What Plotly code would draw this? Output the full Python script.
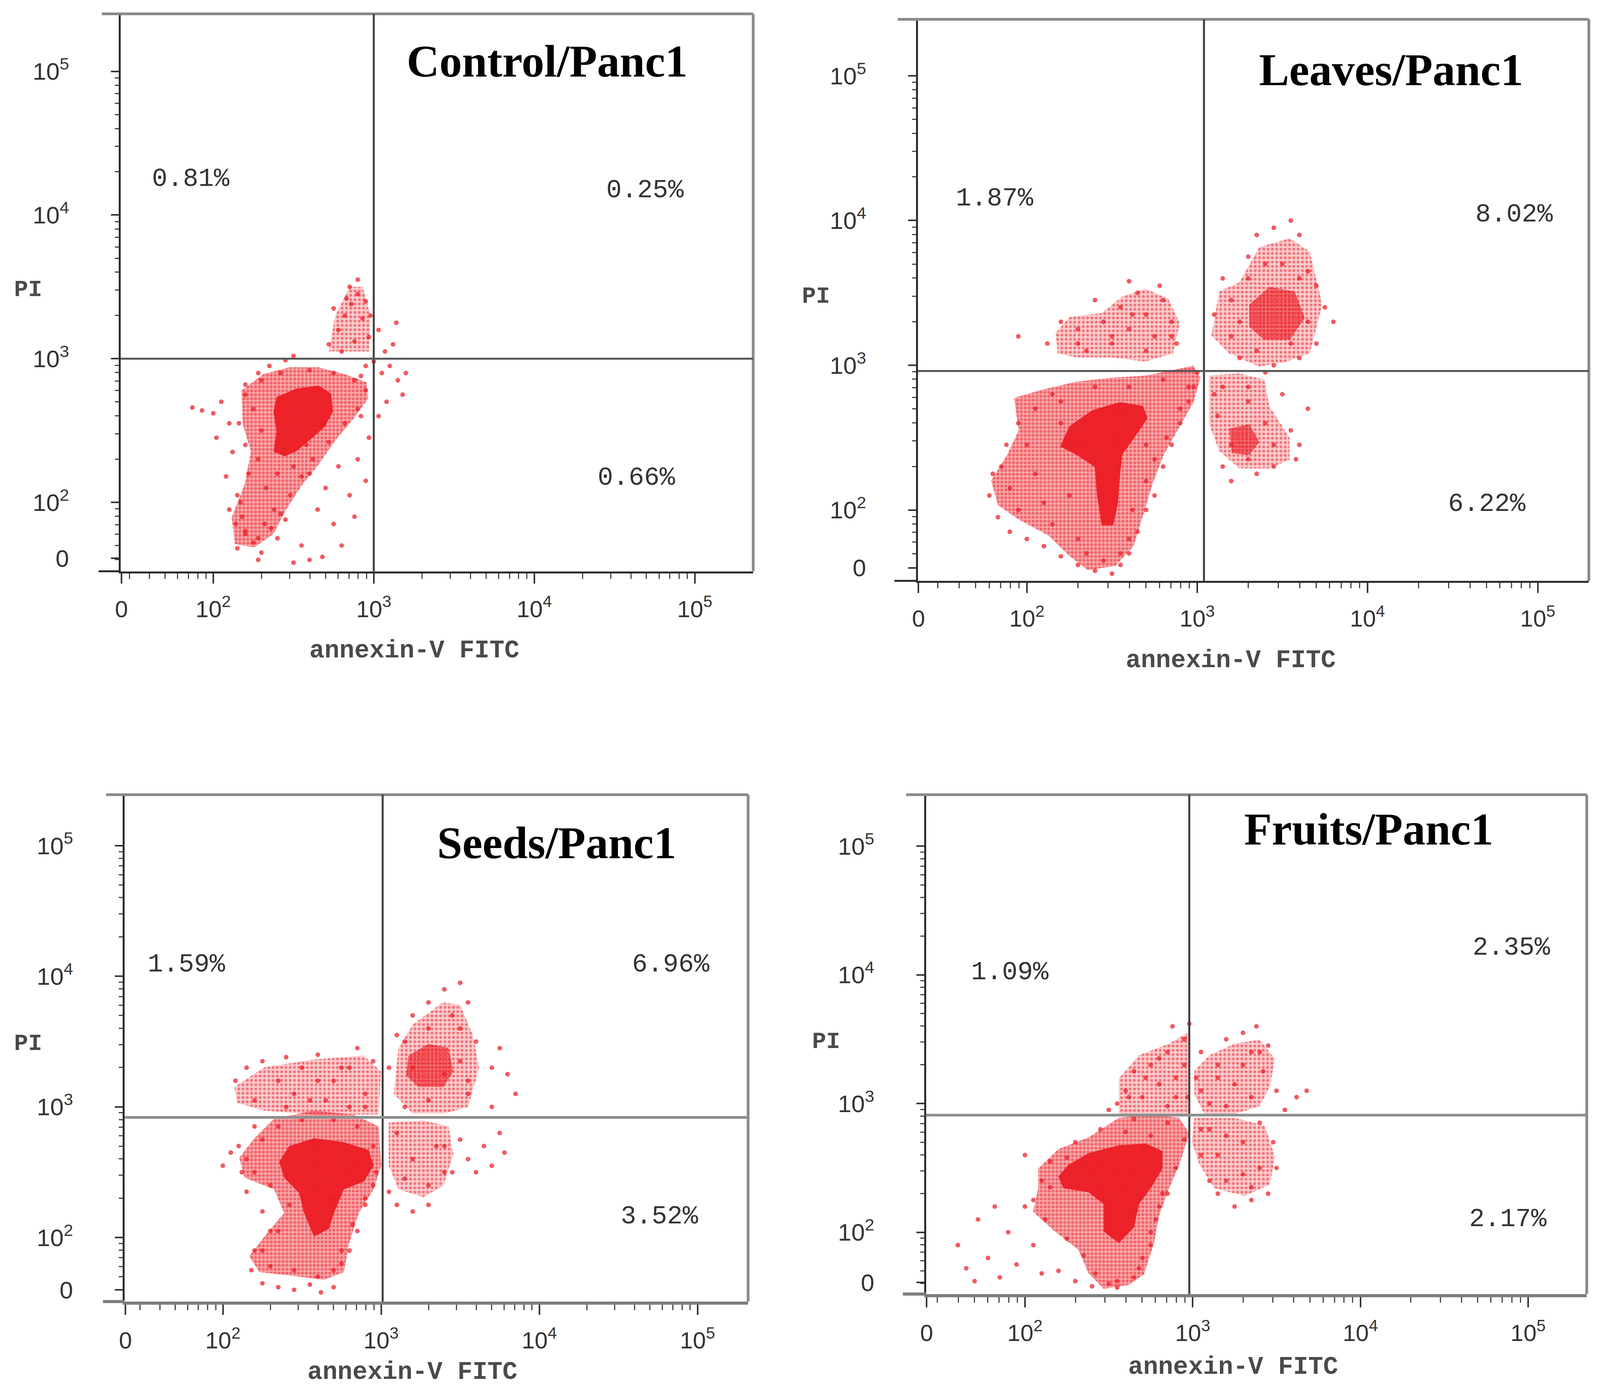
import math
import plotly.graph_objects as go

# ---------------- data (decade units: v means 10**v on the cytometer scale) ----------------
TITLES = ["Control/Panc1", "Leaves/Panc1", "Seeds/Panc1", "Fruits/Panc1"]
PCT_UL = [0.81, 1.87, 1.59, 1.09]
PCT_UR = [0.25, 8.02, 6.96, 2.35]
PCT_LR = [0.66, 6.22, 3.52, 2.17]
GATE_X = [3.00, 3.04, 3.01, 2.98]
GATE_Y = [3.00, 2.96, 2.92, 2.91]
TICK_TEXT = ["0", "10<sup>2</sup>", "10<sup>3</sup>", "10<sup>4</sup>", "10<sup>5</sup>"]
X_LABEL = "annexin-V FITC"
Y_LABEL = "PI"

# --- Control ---
ctrl_cores = [
    [(2.395, 2.733), (2.515, 2.791), (2.655, 2.814), (2.735, 2.756), (2.745, 2.630), (2.695, 2.526),
     (2.615, 2.446), (2.515, 2.354), (2.445, 2.320), (2.375, 2.354), (2.395, 2.492), (2.375, 2.630)],
]
ctrl_halos = [
    [(2.175, 2.779), (2.315, 2.894), (2.475, 2.940), (2.655, 2.940), (2.815, 2.894), (2.955, 2.837),
     (2.965, 2.722), (2.875, 2.584), (2.755, 2.423), (2.655, 2.262), (2.555, 2.124), (2.455, 1.952),
     (2.375, 1.779), (2.255, 1.687), (2.135, 1.710), (2.115, 1.894), (2.195, 2.124), (2.235, 2.354),
     (2.185, 2.538)],
]
ctrl_light = [
    [(2.72, 3.05), (2.76, 3.30), (2.85, 3.50), (2.93, 3.50), (2.98, 3.30), (2.97, 3.05)],
]
ctrl_dots_x = [1.87, 1.93, 2.00, 2.05, 2.10, 2.02, 2.12, 2.08, 2.15, 2.10,
               2.20, 2.28, 2.35, 2.45, 2.50,
               2.20, 2.25, 2.30, 2.18, 2.32, 2.40, 2.28, 2.38, 2.45, 2.15,
               2.60, 2.70, 2.78, 2.85, 2.90, 2.95, 2.65, 2.75, 2.88, 2.55, 2.60, 2.68, 2.50, 2.80, 2.97, 2.92,
               2.72, 2.78, 2.82, 2.86, 2.90, 2.85, 2.93, 2.97, 2.80, 2.88, 2.95, 2.75, 2.90, 2.83, 2.98,
               3.03, 3.07, 3.10, 3.15, 3.05, 3.12, 3.18, 3.08, 3.03, 3.14, 3.20,
               2.95, 3.00, 2.92,
               2.20, 2.30, 2.42, 2.60, 2.75, 2.88, 2.95, 2.90, 2.82, 2.72, 2.62, 2.55, 2.48, 2.42, 2.36,
               2.28, 2.20, 2.14, 2.17, 2.22, 2.20, 2.16, 2.25, 2.30, 2.28, 2.33, 2.40, 2.50, 2.58, 2.68]
ctrl_dots_y = [2.66, 2.64, 2.62, 2.70, 2.55, 2.45, 2.35, 2.18, 2.05, 1.95,
               2.82, 2.90, 2.95, 2.99, 3.02,
               1.80, 1.72, 1.65, 1.90, 1.85, 1.75, 1.60, 1.95, 1.88, 1.68,
               2.20, 2.10, 2.25, 2.05, 2.30, 2.15, 1.95, 1.85, 1.90, 1.70, 1.60, 1.62, 1.58, 1.70, 2.45, 2.60,
               3.10, 3.20, 3.30, 3.38, 3.45, 3.50, 3.28, 3.15, 3.05, 3.12, 3.40, 3.35, 3.55, 3.42, 3.30,
               3.20, 3.05, 2.95, 2.85, 2.90, 3.10, 2.75, 2.70, 2.60, 3.25, 2.90,
               2.95, 2.98, 2.88,
               2.75, 2.85, 2.90, 2.92, 2.90, 2.85, 2.78, 2.65, 2.55, 2.42, 2.30, 2.18, 2.05, 1.92, 1.82,
               1.75, 1.78, 1.85, 2.00, 2.20, 2.40, 2.55, 2.65, 2.50, 2.30, 2.10, 2.20, 2.25, 2.40, 2.55]

# --- Leaves ---
leaves_cores = [
    [(2.249, 2.578), (2.385, 2.690), (2.547, 2.746), (2.682, 2.718), (2.709, 2.634), (2.628, 2.494),
     (2.560, 2.382), (2.547, 2.243), (2.533, 2.033), (2.506, 1.893), (2.439, 1.893), (2.412, 2.103),
     (2.398, 2.298), (2.290, 2.382), (2.195, 2.438)],
]
leaves_halos = [
    [(1.925, 2.774), (2.087, 2.830), (2.290, 2.886), (2.493, 2.914), (2.695, 2.928), (2.871, 2.970),
     (2.979, 2.998), (3.020, 2.914), (2.979, 2.746), (2.898, 2.578), (2.804, 2.382), (2.736, 2.173),
     (2.682, 1.963), (2.628, 1.753), (2.520, 1.613), (2.358, 1.585), (2.249, 1.683), (2.128, 1.823),
     (1.952, 1.935), (1.831, 2.033), (1.790, 2.201), (1.885, 2.382), (1.952, 2.550)],
]
leaves_light = [
    [(2.168, 3.222), (2.249, 3.333), (2.439, 3.361), (2.560, 3.473), (2.695, 3.529), (2.831, 3.459),
     (2.898, 3.291), (2.858, 3.082), (2.695, 3.026), (2.493, 3.054), (2.290, 3.054), (2.182, 3.082)],
    [(3.129, 3.510), (3.247, 3.572), (3.365, 3.816), (3.543, 3.877), (3.661, 3.786), (3.735, 3.419),
     (3.661, 3.082), (3.513, 3.021), (3.365, 2.991), (3.188, 3.082), (3.084, 3.205)],
    [(3.070, 2.929), (3.247, 2.945), (3.395, 2.899), (3.425, 2.715), (3.543, 2.501), (3.543, 2.348),
     (3.425, 2.287), (3.247, 2.287), (3.129, 2.410), (3.070, 2.593)],
]
leaves_mid = [
    [(3.306, 3.419), (3.425, 3.541), (3.573, 3.510), (3.632, 3.327), (3.543, 3.174), (3.395, 3.174),
     (3.306, 3.266)],
    [(3.188, 2.562), (3.306, 2.593), (3.365, 2.471), (3.306, 2.379), (3.203, 2.394)],
]
leaves_dots_x = [1.78, 1.80, 1.83, 1.88, 1.90, 1.95, 2.00, 2.05, 2.10, 2.15, 2.20, 2.30, 2.40, 2.50,
                 2.55, 2.60, 2.65, 2.70, 2.75, 2.80, 2.85, 2.90, 2.95, 2.98, 3.00,
                 2.12, 2.20, 2.30, 2.35, 2.45, 2.50, 2.55, 2.60, 2.65, 2.70, 2.75, 2.80, 2.85, 2.78,
                 2.88, 2.40, 2.60, 1.95,
                 3.10, 3.15, 3.20, 3.30, 3.35, 3.45, 3.50, 3.60, 3.65, 3.70, 3.75, 3.80, 3.70, 3.60,
                 3.45, 3.25, 3.55,
                 3.10, 3.15, 3.20, 3.35, 3.45, 3.55, 3.60, 3.65, 3.50, 3.40, 3.30, 3.58, 3.12,
                 1.85, 1.90, 1.95, 2.00, 2.05, 2.10, 2.15, 2.20, 2.25, 2.30, 2.35, 2.45, 2.55, 2.60, 2.62,
                 2.70, 2.75, 2.82, 2.90, 2.95, 2.60, 2.40, 2.20, 2.80, 2.70,
                 2.30, 2.50, 2.70, 2.85, 2.62,
                 3.20, 3.30, 3.40, 3.60, 3.65, 3.55, 3.35, 3.25,
                 3.15, 3.30, 3.40, 3.45, 3.20, 3.30]
leaves_dots_y = [2.10, 2.25, 1.95, 2.45, 1.85, 2.60, 1.80, 2.70, 1.75, 2.80, 1.68, 1.62, 1.58, 1.56,
                 1.62, 1.70, 1.85, 2.00, 2.10, 2.30, 2.45, 2.60, 2.75, 2.85, 2.95,
                 3.15, 3.30, 3.25, 3.10, 3.30, 3.15, 3.40, 3.25, 3.50, 3.35, 3.20, 3.45, 3.30, 3.55,
                 3.15, 3.45, 3.58, 3.20,
                 3.35, 3.60, 3.20, 3.75, 3.90, 3.95, 3.70, 3.90, 3.65, 3.55, 3.40, 3.30, 3.15, 3.05,
                 3.00, 3.05, 4.00,
                 2.80, 2.30, 2.20, 2.25, 2.30, 2.55, 2.45, 2.70, 2.80, 2.95, 2.85, 2.35, 2.65,
                 2.30, 2.15, 2.00, 2.45, 2.25, 2.05, 1.90, 2.60, 2.10, 1.80, 1.70, 1.65, 1.70, 1.80, 2.00,
                 2.20, 2.35, 2.50, 2.70, 2.85, 2.85, 2.85, 2.75, 2.90, 2.45,
                 3.15, 3.20, 3.10, 3.20, 3.35,
                 3.45, 3.60, 3.70, 3.60, 3.30, 3.15, 3.10, 3.30,
                 2.85, 2.75, 2.60, 2.45, 2.45, 2.35]

# --- Seeds ---
seeds_cores = [
    [(2.419, 2.700), (2.576, 2.760), (2.765, 2.730), (2.922, 2.670), (2.953, 2.550), (2.891, 2.429),
     (2.765, 2.369), (2.702, 2.188), (2.670, 2.067), (2.576, 2.007), (2.513, 2.188), (2.482, 2.339),
     (2.387, 2.459), (2.356, 2.580)],
]
seeds_halos = [
    [(2.104, 2.610), (2.199, 2.760), (2.324, 2.911), (2.576, 2.971), (2.828, 2.941), (2.985, 2.851),
     (3.001, 2.550), (2.953, 2.369), (2.859, 2.188), (2.796, 1.947), (2.765, 1.736), (2.639, 1.676),
     (2.450, 1.706), (2.230, 1.736), (2.167, 1.857), (2.262, 2.007), (2.387, 2.188), (2.324, 2.369),
     (2.136, 2.459)],
]
seeds_light = [
    [(2.073, 3.152), (2.262, 3.303), (2.576, 3.363), (2.890, 3.393), (3.000, 3.272), (2.985, 2.941),
     (2.576, 2.941), (2.262, 2.971), (2.089, 3.031)],
    [(3.11, 3.45), (3.20, 3.63), (3.39, 3.80), (3.50, 3.78), (3.58, 3.55), (3.62, 3.30), (3.55, 3.00),
     (3.40, 2.95), (3.20, 2.95), (3.08, 3.10)],
    [(3.048, 2.881), (3.268, 2.896), (3.425, 2.851), (3.457, 2.640), (3.394, 2.399), (3.268, 2.309),
     (3.111, 2.369), (3.048, 2.550)],
]
seeds_mid = [
    [(3.174, 3.393), (3.299, 3.483), (3.425, 3.453), (3.457, 3.272), (3.394, 3.152), (3.236, 3.152),
     (3.158, 3.242)],
]
seeds_dots_x = [2.00, 2.05, 2.10, 2.12, 2.15, 2.20, 2.25, 2.30, 2.20, 2.18, 2.25, 2.35, 2.45, 2.55,
                2.62, 2.70, 2.75, 2.80, 2.85, 2.90, 2.95,
                2.08, 2.15, 2.25, 2.35, 2.45, 2.50, 2.60, 2.70, 2.75, 2.85, 2.90, 2.95, 2.80, 2.40, 2.65,
                3.05, 3.10, 3.20, 3.30, 3.40, 3.50, 3.55, 3.60, 3.70, 3.75, 3.80, 3.85, 3.70, 3.55,
                3.50, 3.15,
                3.05, 3.10, 3.20, 3.30, 3.45, 3.50, 3.55, 3.60, 3.65, 3.70, 3.75, 3.78, 3.40,
                2.15, 2.25, 2.35, 2.50, 2.70, 2.85, 2.95, 2.97, 2.90, 2.82, 2.75, 2.70, 2.60, 2.45, 2.30,
                2.25, 2.35, 2.42, 2.30, 2.20, 2.80, 2.70,
                2.20, 2.40, 2.60, 2.80, 2.90, 2.55,
                3.20, 3.30, 3.45, 3.50, 3.55, 3.30, 3.15, 3.40,
                3.10, 3.20, 3.35, 3.40, 3.30, 3.15]
seeds_dots_y = [2.55, 2.65, 2.70, 2.50, 2.35, 2.85, 2.20, 2.05, 1.90, 1.75, 1.65, 1.62, 1.60, 1.64,
                1.58, 1.62, 1.80, 1.90, 2.05, 2.25, 2.40,
                3.20, 3.30, 3.35, 3.20, 3.10, 3.30, 3.40, 3.20, 3.30, 3.45, 3.10, 3.35, 3.00, 3.38, 3.05,
                3.30, 3.55, 3.70, 3.80, 3.90, 3.95, 3.80, 3.50, 3.30, 3.45, 3.25, 3.10, 3.00, 3.10,
                3.60, 3.00,
                2.35, 2.25, 2.20, 2.25, 2.50, 2.75, 2.60, 2.50, 2.70, 2.55, 2.80, 2.65, 2.70,
                2.60, 2.75, 2.85, 2.90, 2.90, 2.85, 2.70, 2.50, 2.30, 2.10, 1.90, 1.75, 1.70, 1.75, 1.78,
                1.90, 2.05, 2.25, 2.40, 2.50, 2.50, 2.30,
                3.05, 3.00, 3.20, 3.30, 3.00, 3.05,
                3.30, 3.60, 3.70, 3.35, 3.20, 3.05, 3.50, 3.25,
                2.80, 2.60, 2.70, 2.50, 2.40, 2.45]

# --- Fruits ---
fruits_cores = [
    [(2.259, 2.524), (2.379, 2.615), (2.560, 2.676), (2.720, 2.690), (2.820, 2.630), (2.820, 2.494),
     (2.750, 2.342), (2.680, 2.220), (2.650, 2.038), (2.560, 1.916), (2.469, 2.007), (2.469, 2.220),
     (2.379, 2.311), (2.229, 2.342), (2.199, 2.433)],
]
fruits_halos = [
    [(2.079, 2.494), (2.199, 2.646), (2.379, 2.737), (2.560, 2.889), (2.740, 2.919), (2.920, 2.889),
     (2.980, 2.767), (2.920, 2.524), (2.860, 2.342), (2.800, 2.129), (2.770, 1.916), (2.710, 1.673),
     (2.620, 1.591), (2.469, 1.560), (2.379, 1.682), (2.319, 1.864), (2.169, 2.016), (2.049, 2.159),
     (2.079, 2.342)],
]
fruits_light = [
    [(2.560, 3.193), (2.680, 3.375), (2.860, 3.466), (2.980, 3.557), (2.980, 2.919), (2.770, 2.919),
     (2.560, 2.919)],
    [(3.010, 3.253), (3.100, 3.375), (3.250, 3.466), (3.400, 3.497), (3.491, 3.345), (3.460, 3.132),
     (3.400, 2.980), (3.250, 2.919), (3.070, 2.919), (3.010, 3.071)],
    [(3.010, 2.889), (3.250, 2.889), (3.430, 2.828), (3.491, 2.585), (3.460, 2.372), (3.310, 2.281),
     (3.130, 2.342), (3.040, 2.524), (2.995, 2.706)],
]
fruits_mid = []
fruits_dots_x = [1.60, 1.65, 1.72, 1.78, 1.85, 1.90, 1.95, 2.00, 2.05, 2.10, 2.15, 1.82, 2.00, 1.70,
                 2.20, 2.25, 2.30,
                 2.40, 2.50, 2.55, 2.65, 2.70, 2.75, 2.80, 2.85,
                 2.55, 2.60, 2.65, 2.70, 2.75, 2.80, 2.85, 2.90, 2.95, 2.97, 2.88, 2.98, 2.50,
                 3.02, 3.05, 3.10, 3.15, 3.20, 3.30, 3.35, 3.42, 3.45, 3.50, 3.55, 3.62, 3.68, 3.25, 3.38,
                 3.05, 3.10, 3.15, 3.25, 3.35, 3.45, 3.50, 3.48, 3.40, 3.20, 3.30, 3.10,
                 2.10, 2.15, 2.30, 2.45, 2.65, 2.85, 2.95, 2.90, 2.82, 2.78, 2.75, 2.68, 2.55, 2.42, 2.35,
                 2.25, 2.12, 2.05, 2.60, 2.75,
                 2.62, 2.72, 2.80, 2.90, 2.95, 2.85,
                 3.05, 3.15, 3.30, 3.40, 3.35, 3.20,
                 3.05, 3.15, 3.30, 3.40, 3.35, 3.20]
fruits_dots_y = [1.90, 1.72, 2.10, 1.80, 1.65, 2.00, 1.75, 2.20, 1.90, 1.68, 2.35, 2.20, 2.60, 1.62,
                 1.70, 2.58, 1.62,
                 1.58, 1.60, 1.57, 1.65, 1.80, 2.00, 2.20, 2.30,
                 3.00, 3.10, 3.25, 3.05, 3.30, 3.15, 3.40, 3.20, 3.50, 3.05, 3.60, 3.62, 2.95,
                 3.20, 3.40, 3.00, 3.30, 3.50, 3.55, 3.40, 3.25, 3.45, 3.10, 2.95, 3.05, 3.10, 3.15, 3.60,
                 2.60, 2.40, 2.30, 2.20, 2.25, 2.30, 2.50, 2.70, 2.85, 2.75, 2.45, 2.80,
                 2.40, 2.55, 2.70, 2.80, 2.88, 2.85, 2.72, 2.50, 2.30, 2.10, 1.90, 1.72, 1.62, 1.68, 1.82,
                 1.95, 2.10, 2.25, 2.78, 2.75,
                 3.05, 3.20, 3.35, 3.05, 3.30, 2.98,
                 3.10, 3.20, 3.30, 3.40, 3.05, 2.98,
                 2.80, 2.60, 2.70, 2.50, 2.35, 2.40]

# ---------------- layout settings ----------------
DOMAINS = [((0.0721, 0.4688), (0.5887, 0.9900)),
           ((0.5721, 0.9930), (0.5818, 0.9861)),
           ((0.0746, 0.4656), (0.0630, 0.4279)),
           ((0.5772, 0.9917), (0.0684, 0.4279))]
X_RANGES = [(1.424, 5.364), (1.36, 5.30), (1.38, 5.32), (1.41, 5.35)]
Y_RANGES = [(1.52, 5.40), (1.51, 5.39), (1.51, 5.39), (1.52, 5.40)]
PCT_POS = [((1.86, 4.25), (4.69, 4.17), (4.635, 2.17)),
           ((1.81, 4.15), (4.86, 4.04), (4.70, 2.04)),
           ((1.77, 4.09), (4.83, 4.09), (4.76, 2.16)),
           ((1.91, 4.02), (4.90, 4.21), (4.88, 2.10))]
TITLE_POS = [(4.08, 5.07), (4.14, 5.04), (4.11, 5.02), (4.05, 5.13)]
XLAB_POS = [(0.2564, 0.5315), (0.7685, 0.5246), (0.2551, 0.0120), (0.7698, 0.0158)]
YLAB_POS = [(0.0140, 0.7913), (0.5083, 0.7866), (0.0140, 0.2486), (0.5147, 0.2501)]

panels = [
    dict(cores=ctrl_cores, halos=ctrl_halos, light=ctrl_light, mid=[], dx=ctrl_dots_x, dy=ctrl_dots_y),
    dict(cores=leaves_cores, halos=leaves_halos, light=leaves_light, mid=leaves_mid, dx=leaves_dots_x, dy=leaves_dots_y),
    dict(cores=seeds_cores, halos=seeds_halos, light=seeds_light, mid=seeds_mid, dx=seeds_dots_x, dy=seeds_dots_y),
    dict(cores=fruits_cores, halos=fruits_halos, light=fruits_light, mid=fruits_mid, dx=fruits_dots_x, dy=fruits_dots_y),
]

RED = "rgb(236,28,36)"


def minor_vals(lo, hi):
    vals = []
    for n in range(1, 5):
        for k in range(2, 10):
            v = math.log10(k * 10 ** n)
            if lo < v < hi:
                vals.append(v)
    return vals


fig = go.Figure()
layout = dict(width=4317, height=3561, margin=dict(l=0, r=0, t=0, b=0),
              paper_bgcolor="white", plot_bgcolor="white", showlegend=False)
shapes = []
annotations = []

for i, p in enumerate(panels):
    xa = "x" if i == 0 else f"x{i + 1}"
    ya = "y" if i == 0 else f"y{i + 1}"
    xk = "xaxis" if i == 0 else f"xaxis{i + 1}"
    yk = "yaxis" if i == 0 else f"yaxis{i + 1}"

    def poly(pts, bg, solidity, size):
        fig.add_trace(go.Scatter(x=[q[0] for q in pts], y=[q[1] for q in pts], fill="toself",
                                 mode="lines", line=dict(width=0), fillcolor=bg,
                                 fillpattern=dict(shape=".", fgcolor=RED, bgcolor=bg,
                                                  solidity=solidity, size=size),
                                 hoverinfo="skip", xaxis=xa, yaxis=ya))

    for pts in p["light"]:
        poly(pts, "rgba(236,28,36,0.22)", 0.35, 11)
    for pts in p["halos"]:
        poly(pts, "rgba(236,28,36,0.38)", 0.45, 10)
    for pts in p["mid"]:
        poly(pts, "rgba(236,28,36,0.50)", 0.55, 9)
    for pts in p["cores"]:
        fig.add_trace(go.Scatter(x=[q[0] for q in pts], y=[q[1] for q in pts], fill="toself",
                                 mode="lines", line=dict(width=0), fillcolor="rgba(236,28,36,0.95)",
                                 hoverinfo="skip", xaxis=xa, yaxis=ya))
    fig.add_trace(go.Scatter(x=p["dx"], y=p["dy"], mode="markers",
                             marker=dict(color=RED, size=12, opacity=0.72, line=dict(width=0)),
                             hoverinfo="skip", xaxis=xa, yaxis=ya))

    bottom_col = "#2b2b2b" if i < 2 else "#7d7d7d"
    bottom_w = 5 if i < 2 else 8
    (dx0, dx1), (dy0, dy1) = DOMAINS[i]
    xr, yr = X_RANGES[i], Y_RANGES[i]
    layout[xk] = dict(domain=[dx0, dx1], range=list(xr), anchor=ya, showgrid=False, zeroline=False,
                      showline=True, linecolor=bottom_col, linewidth=bottom_w,
                      ticks="outside", ticklen=26, tickwidth=4, tickcolor="#333",
                      tickvals=[xr[0] + 0.004, 2, 3, 4, 5], ticktext=TICK_TEXT,
                      tickfont=dict(family="Liberation Sans", size=60, color="#333"),
                      ticklabelstandoff=14,
                      minor=dict(tickvals=minor_vals(xr[0], xr[1]), ticks="outside", ticklen=14,
                                 tickwidth=3, tickcolor="#444", showgrid=False))
    layout[yk] = dict(domain=[dy0, dy1], range=list(yr), anchor=xa, showgrid=False, zeroline=False,
                      showline=True, linecolor="#2b2b2b", linewidth=5,
                      ticks="outside", ticklen=20, tickwidth=4, tickcolor="#333",
                      tickvals=[yr[0] + 0.09, 2, 3, 4, 5], ticktext=TICK_TEXT,
                      tickfont=dict(family="Liberation Sans", size=62, color="#333"),
                      ticklabelstandoff=95,
                      minor=dict(tickvals=minor_vals(yr[0], yr[1]), ticks="outside", ticklen=10,
                                 tickwidth=3, tickcolor="#444", showgrid=False))

    # frame (top / right, with short overhang on the left) and quadrant gates
    shapes.append(dict(type="line", xref=f"{xa} domain", yref=f"{ya} domain", x0=-0.03, x1=1, y0=1, y1=1,
                       line=dict(color="#8a8a8a", width=7)))
    shapes.append(dict(type="line", xref=f"{xa} domain", yref=f"{ya} domain", x0=1, x1=1, y0=0, y1=1,
                       line=dict(color="#8a8a8a", width=7)))
    shapes.append(dict(type="line", xref=f"{xa} domain", yref=f"{ya} domain", x0=-0.035, x1=0, y0=0, y1=0,
                       line=dict(color=bottom_col, width=bottom_w)))
    hcol = "#555555" if i < 2 else "#8f8f8f"
    shapes.append(dict(type="line", xref=xa, yref=f"{ya} domain", x0=GATE_X[i], x1=GATE_X[i], y0=0, y1=1,
                       line=dict(color="#3d3d3d", width=5)))
    shapes.append(dict(type="line", xref=f"{xa} domain", yref=ya, x0=0, x1=1, y0=GATE_Y[i], y1=GATE_Y[i],
                       line=dict(color=hcol, width=7 if i >= 2 else 5)))

    for (px, py), val in zip(PCT_POS[i], (PCT_UL[i], PCT_UR[i], PCT_LR[i])):
        annotations.append(dict(x=px, y=py, xref=xa, yref=ya, text=f"{val:.2f}%", showarrow=False,
                                xanchor="center", yanchor="middle",
                                font=dict(family="Liberation Mono", size=66, color="#333")))
    tx, ty = TITLE_POS[i]
    annotations.append(dict(x=tx, y=ty, xref=xa, yref=ya, text=f"<b>{TITLES[i]}</b>", showarrow=False,
                            xanchor="center", yanchor="middle",
                            font=dict(family="Liberation Serif", size=116, color="black")))
    lx, ly = XLAB_POS[i]
    annotations.append(dict(x=lx, y=ly, xref="paper", yref="paper", text=f"<b>{X_LABEL}</b>",
                            showarrow=False, xanchor="center", yanchor="middle",
                            font=dict(family="Liberation Mono", size=64, color="#4a4a4a")))
    qx, qy = YLAB_POS[i]
    annotations.append(dict(x=qx, y=qy, xref="paper", yref="paper", text=f"<b>{Y_LABEL}</b>",
                            showarrow=False, xanchor="center", yanchor="middle",
                            font=dict(family="Liberation Mono", size=60, color="#4a4a4a")))

layout["shapes"] = shapes
layout["annotations"] = annotations
fig.update_layout(**layout)

# fit the figure to the browser viewport exactly (no page margin / scrollbars)
POST = """
document.documentElement.style.overflow = 'hidden';
document.body.style.margin = '0';
document.body.style.overflow = 'hidden';
var gd = document.getElementById('{plot_id}');
Plotly.relayout(gd, {width: window.innerWidth, height: window.innerHeight});
"""
fig.write_html("out.html", post_script=POST, config={"displayModeBar": False})
